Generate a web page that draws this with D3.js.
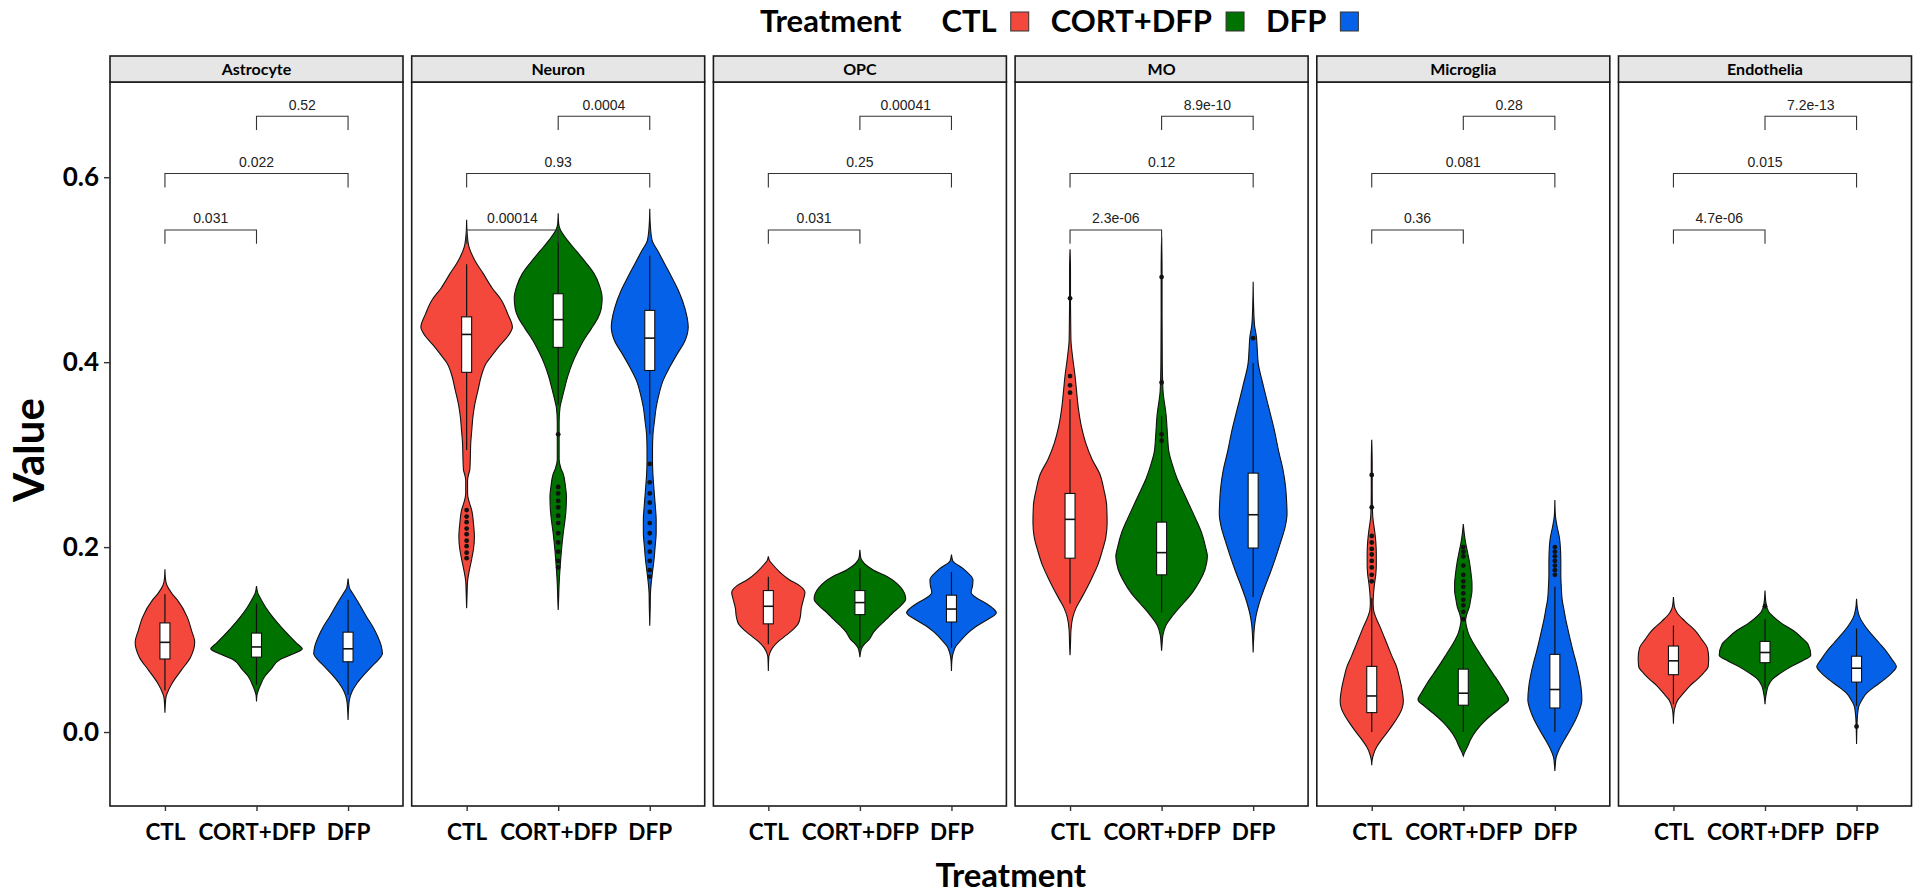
<!DOCTYPE html>
<meta charset="utf-8">
<script src="https://d3js.org/d3.v7.min.js"></script>
<style>
  body { margin: 0; background: #fff; }
  .tick text { font-family: Lato, "Open Sans", sans-serif; font-weight: bold; fill: #000; }
</style>
<body>
<div id="vis"></div>
<script>
// categories
var cellTypes = ["Astrocyte", "Neuron", "OPC", "MO", "Microglia", "Endothelia"];
var groups = ["CTL", "CORT+DFP", "DFP"];
var groupColors = ["#F5483D", "#007200", "#0562E8"];
var yTicks = [0.0, 0.2, 0.4, 0.6];

// violin outlines: [value, relative half width] per group (CTL, CORT+DFP, DFP)
var astrocyteViolins = [
  [[0.176,0],[0.166,0.01],[0.159,0.04],[0.150,0.15],[0.143,0.27],[0.124,0.49],[0.110,0.58],[0.097,0.65],[0.081,0.56],[0.067,0.36],[0.053,0.16],[0.042,0.05],[0.037,0.02],[0.021,0]],
  [[0.158,0],[0.150,0.03],[0.146,0.07],[0.135,0.2],[0.124,0.36],[0.113,0.55],[0.103,0.74],[0.095,0.9],[0.090,1.0],[0.084,0.78],[0.078,0.5],[0.068,0.32],[0.060,0.18],[0.050,0.08],[0.045,0.04],[0.040,0.01],[0.033,0]],
  [[0.166,0],[0.156,0.03],[0.150,0.1],[0.138,0.25],[0.125,0.40],[0.113,0.55],[0.103,0.65],[0.092,0.73],[0.085,0.75],[0.078,0.66],[0.071,0.52],[0.062,0.35],[0.053,0.2],[0.044,0.09],[0.035,0.03],[0.025,0.01],[0.013,0]]
];
var neuronViolins = [
  [[0.554,0],[0.54,0.01],[0.525,0.05],[0.51,0.18],[0.496,0.36],[0.480,0.56],[0.467,0.76],[0.452,0.9],[0.438,1.0],[0.428,0.9],[0.419,0.74],[0.409,0.58],[0.399,0.43],[0.385,0.32],[0.370,0.25],[0.355,0.18],[0.342,0.14],[0.325,0.11],[0.313,0.09],[0.295,0.08],[0.284,0.07],[0.278,0.04],[0.272,0.02],[0.258,0.02],[0.248,0.06],[0.240,0.11],[0.225,0.15],[0.211,0.17],[0.198,0.15],[0.187,0.11],[0.175,0.06],[0.163,0.02],[0.150,0.01],[0.134,0]],
  [[0.561,0],[0.550,0.01],[0.544,0.04],[0.532,0.2],[0.520,0.40],[0.508,0.6],[0.496,0.78],[0.483,0.9],[0.469,0.96],[0.458,0.94],[0.448,0.87],[0.436,0.72],[0.424,0.56],[0.412,0.43],[0.399,0.31],[0.385,0.21],[0.370,0.13],[0.360,0.08],[0.351,0.04],[0.335,0.02],[0.315,0.02],[0.295,0.02],[0.285,0.06],[0.279,0.11],[0.265,0.16],[0.255,0.18],[0.240,0.17],[0.230,0.15],[0.215,0.11],[0.206,0.09],[0.190,0.06],[0.177,0.04],[0.160,0.02],[0.145,0.01],[0.132,0]],
  [[0.566,0],[0.550,0.01],[0.532,0.05],[0.520,0.18],[0.506,0.33],[0.490,0.5],[0.477,0.63],[0.458,0.77],[0.438,0.84],[0.422,0.76],[0.409,0.6],[0.395,0.44],[0.380,0.29],[0.365,0.2],[0.351,0.14],[0.335,0.1],[0.322,0.07],[0.305,0.06],[0.293,0.06],[0.278,0.07],[0.264,0.09],[0.245,0.12],[0.230,0.14],[0.215,0.14],[0.202,0.12],[0.185,0.09],[0.173,0.06],[0.160,0.03],[0.150,0.015],[0.135,0.01],[0.115,0]]
];
var opcViolins = [
  [[0.190,0],[0.185,0.03],[0.182,0.08],[0.173,0.25],[0.165,0.45],[0.158,0.69],[0.151,0.80],[0.142,0.76],[0.134,0.72],[0.125,0.70],[0.117,0.65],[0.110,0.52],[0.105,0.4],[0.098,0.22],[0.091,0.09],[0.085,0.03],[0.081,0.01],[0.066,0]],
  [[0.197,0],[0.188,0.02],[0.182,0.1],[0.175,0.3],[0.168,0.6],[0.156,0.9],[0.144,1.0],[0.136,0.88],[0.129,0.72],[0.122,0.58],[0.115,0.43],[0.108,0.3],[0.100,0.2],[0.095,0.1],[0.091,0.04],[0.085,0.01],[0.081,0]],
  [[0.192,0],[0.185,0.03],[0.177,0.25],[0.171,0.38],[0.165,0.47],[0.158,0.46],[0.151,0.43],[0.145,0.55],[0.139,0.76],[0.134,0.9],[0.129,0.98],[0.122,0.8],[0.115,0.56],[0.108,0.38],[0.100,0.22],[0.093,0.1],[0.086,0.04],[0.078,0.01],[0.066,0]]
];
var moViolins = [
  [[0.522,0],[0.50,0.01],[0.47,0.01],[0.44,0.015],[0.424,0.02],[0.404,0.06],[0.385,0.11],[0.370,0.14],[0.351,0.18],[0.330,0.25],[0.313,0.34],[0.295,0.48],[0.279,0.65],[0.262,0.74],[0.245,0.80],[0.226,0.81],[0.210,0.78],[0.197,0.71],[0.180,0.6],[0.168,0.49],[0.155,0.36],[0.144,0.24],[0.134,0.13],[0.124,0.06],[0.110,0.02],[0.095,0.01],[0.083,0]],
  [[0.535,0],[0.50,0.01],[0.45,0.01],[0.40,0.015],[0.370,0.03],[0.342,0.1],[0.320,0.13],[0.303,0.16],[0.290,0.23],[0.274,0.34],[0.260,0.47],[0.245,0.61],[0.230,0.75],[0.216,0.87],[0.200,0.96],[0.190,1.0],[0.176,0.95],[0.163,0.83],[0.150,0.66],[0.139,0.47],[0.127,0.26],[0.115,0.09],[0.105,0.03],[0.095,0.01],[0.088,0]],
  [[0.487,0],[0.46,0.01],[0.440,0.03],[0.428,0.07],[0.413,0.09],[0.399,0.11],[0.375,0.22],[0.351,0.34],[0.327,0.46],[0.303,0.56],[0.284,0.65],[0.264,0.71],[0.250,0.73],[0.236,0.74],[0.222,0.7],[0.207,0.61],[0.190,0.5],[0.173,0.38],[0.155,0.24],[0.139,0.13],[0.125,0.06],[0.115,0.03],[0.100,0.01],[0.086,0]]
];
var microgliaViolins = [
  [[0.316,0],[0.29,0.01],[0.26,0.01],[0.235,0.02],[0.215,0.07],[0.205,0.09],[0.193,0.1],[0.180,0.1],[0.171,0.09],[0.160,0.06],[0.150,0.04],[0.140,0.03],[0.132,0.04],[0.124,0.09],[0.114,0.18],[0.103,0.27],[0.092,0.36],[0.081,0.45],[0.071,0.54],[0.060,0.6],[0.049,0.65],[0.033,0.69],[0.025,0.66],[0.017,0.58],[0.008,0.46],[-0.001,0.33],[-0.008,0.22],[-0.016,0.11],[-0.024,0.04],[-0.030,0.01],[-0.036,0]],
  [[0.225,0],[0.215,0.02],[0.205,0.05],[0.195,0.09],[0.185,0.13],[0.171,0.17],[0.160,0.19],[0.153,0.19],[0.143,0.16],[0.135,0.13],[0.128,0.08],[0.121,0.05],[0.114,0.07],[0.107,0.11],[0.096,0.22],[0.085,0.36],[0.074,0.5],[0.063,0.65],[0.052,0.8],[0.042,0.92],[0.035,0.99],[0.028,0.85],[0.020,0.65],[0.011,0.45],[0.002,0.29],[-0.008,0.16],[-0.016,0.09],[-0.022,0.03],[-0.026,0]],
  [[0.251,0],[0.235,0.01],[0.222,0.05],[0.210,0.1],[0.200,0.12],[0.185,0.13],[0.171,0.13],[0.157,0.14],[0.143,0.16],[0.132,0.2],[0.121,0.24],[0.110,0.29],[0.099,0.34],[0.087,0.4],[0.074,0.47],[0.061,0.53],[0.049,0.57],[0.035,0.59],[0.024,0.54],[0.013,0.45],[0.002,0.33],[-0.009,0.2],[-0.018,0.1],[-0.027,0.03],[-0.035,0.01],[-0.042,0]]
];
var endotheliaViolins = [
  [[0.146,0],[0.136,0.02],[0.129,0.08],[0.120,0.25],[0.110,0.47],[0.100,0.62],[0.091,0.74],[0.080,0.77],[0.071,0.76],[0.064,0.66],[0.057,0.52],[0.050,0.36],[0.042,0.22],[0.035,0.1],[0.028,0.04],[0.020,0.01],[0.009,0]],
  [[0.153,0],[0.140,0.02],[0.130,0.08],[0.124,0.2],[0.117,0.38],[0.110,0.61],[0.102,0.8],[0.095,0.94],[0.083,1.0],[0.077,0.82],[0.071,0.58],[0.064,0.35],[0.057,0.16],[0.050,0.07],[0.042,0.03],[0.036,0.01],[0.030,0]],
  [[0.144,0],[0.133,0.02],[0.124,0.07],[0.115,0.18],[0.105,0.34],[0.096,0.5],[0.086,0.67],[0.078,0.78],[0.071,0.87],[0.064,0.77],[0.057,0.61],[0.050,0.42],[0.042,0.22],[0.035,0.12],[0.028,0.05],[0.018,0.02],[0.008,0.01],[-0.013,0]]
];

// box stats: [lower whisker, q1, median, q3, upper whisker]
var astrocyteBoxes = [[0.045,0.079,0.097,0.118,0.149],[0.051,0.081,0.092,0.107,0.139],[0.040,0.076,0.090,0.108,0.143]];
var neuronBoxes = [[0.305,0.389,0.430,0.449,0.506],[0.354,0.416,0.446,0.474,0.530],[0.322,0.391,0.426,0.456,0.515]];
var opcBoxes = [[0.095,0.117,0.136,0.153,0.168],[0.091,0.127,0.140,0.153,0.177],[0.091,0.119,0.133,0.148,0.173]];
var moBoxes = [[0.139,0.188,0.230,0.258,0.360],[0.129,0.170,0.194,0.227,0.342],[0.146,0.199,0.235,0.280,0.399]];
var microgliaBoxes = [[0.000,0.021,0.039,0.071,0.145],[0.000,0.029,0.042,0.068,0.110],[0.000,0.026,0.046,0.084,0.157]];
var endotheliaBoxes = [[0.030,0.062,0.077,0.093,0.115],[0.047,0.075,0.086,0.098,0.122],[0.028,0.054,0.069,0.082,0.112]];

// outlier points
var astrocyteOutliers = [[], [], []];
var neuronOutliers = [
  [0.240,0.233,0.227,0.220,0.214,0.207,0.201,0.194,0.188],
  [0.322,0.265,0.258,0.250,0.243,0.234,0.226,0.215,0.205,0.195,0.185,0.178],
  [0.290,0.270,0.258,0.248,0.238,0.226,0.215,0.205,0.195,0.185,0.175,0.168]
];
var opcOutliers = [[], [], []];
var moOutliers = [[0.469,0.385,0.375,0.367], [0.492,0.378,0.322,0.315], [0.426]];
var microgliaOutliers = [
  [0.278,0.243,0.212,0.205,0.198,0.192,0.185,0.178,0.170,0.163],
  [0.200,0.195,0.190,0.180,0.170,0.163,0.157,0.150,0.143,0.137,0.130,0.122],
  [0.200,0.195,0.190,0.185,0.180,0.175,0.170]
];
var endotheliaOutliers = [[], [0.136], [0.006]];

// p-values: CTL vs CORT+DFP, CTL vs DFP, CORT+DFP vs DFP
var comparisons = [[0, 1], [0, 2], [1, 2]];
var bracketLevels = [0.543, 0.604, 0.666];
var astrocytePvals = ["0.031", "0.022", "0.52"];
var neuronPvals = ["0.00014", "0.93", "0.0004"];
var opcPvals = ["0.031", "0.25", "0.00041"];
var moPvals = ["2.3e-06", "0.12", "8.9e-10"];
var microgliaPvals = ["0.36", "0.081", "0.28"];
var endotheliaPvals = ["4.7e-06", "0.015", "7.2e-13"];

var panels = [
  {name: "Astrocyte", violins: astrocyteViolins, boxes: astrocyteBoxes, outliers: astrocyteOutliers, pvals: astrocytePvals},
  {name: "Neuron", violins: neuronViolins, boxes: neuronBoxes, outliers: neuronOutliers, pvals: neuronPvals},
  {name: "OPC", violins: opcViolins, boxes: opcBoxes, outliers: opcOutliers, pvals: opcPvals},
  {name: "MO", violins: moViolins, boxes: moBoxes, outliers: moOutliers, pvals: moPvals},
  {name: "Microglia", violins: microgliaViolins, boxes: microgliaBoxes, outliers: microgliaOutliers, pvals: microgliaPvals},
  {name: "Endothelia", violins: endotheliaViolins, boxes: endotheliaBoxes, outliers: endotheliaOutliers, pvals: endotheliaPvals}
];

// layout
var width = 1920, height = 896;
var panelX0 = 110, panelW = 293, panelGap = 8.7;
var stripTop = 56, plotTop = 82, plotBottom = 806;
var boldFont = "Lato, 'Open Sans', sans-serif";

var svg = d3.select("#vis")
  .append("svg")
    .attr("width", width)
    .attr("height", height)
    .style("display", "block");

var y = d3.scaleLinear()
  .domain([-0.08, 0.703])
  .range([plotBottom, plotTop]);

var color = d3.scaleOrdinal()
  .domain(groups)
  .range(groupColors);

panels.forEach(function(p, i) {
  var left = panelX0 + i * (panelW + panelGap);
  var x = d3.scalePoint()
    .domain(groups)
    .range([left, left + panelW])
    .padding(0.6);
  var w = d3.scaleLinear()
    .domain([0, 1])
    .range([0, x.step() / 2]);

  var g = svg.append("g").attr("class", "panel");

  // panel box
  g.append("rect")
    .attr("x", left).attr("y", plotTop)
    .attr("width", panelW).attr("height", plotBottom - plotTop)
    .attr("fill", "#fff").attr("stroke", "#1a1a1a").attr("stroke-width", 1.6);

  // strip
  g.append("rect")
    .attr("x", left).attr("y", stripTop)
    .attr("width", panelW).attr("height", plotTop - stripTop)
    .attr("fill", "#e6e6e6").attr("stroke", "#1a1a1a").attr("stroke-width", 1.6);
  g.append("text")
    .attr("x", left + panelW / 2).attr("y", stripTop + 18.5)
    .attr("text-anchor", "middle")
    .style("font-family", boldFont).style("font-weight", "bold").style("font-size", "16px")
    .text(p.name);

  // violins
  p.violins.forEach(function(prof, k) {
    var cx = x(groups[k]);
    var pts = prof.slice().sort(function(a, b) { return b[0] - a[0]; });
    var area = d3.area()
      .y(function(d) { return y(d[0]); })
      .x0(function(d) { return cx - w(d[1]); })
      .x1(function(d) { return cx + w(d[1]); })
      .curve(d3.curveMonotoneY);
    g.append("path")
      .attr("d", area(pts))
      .attr("fill", color(groups[k]))
      .attr("stroke", "#111")
      .attr("stroke-width", 1.1);
  });

  // boxplots
  p.boxes.forEach(function(b, k) {
    var cx = x(groups[k]);
    var bw = 10;
    g.append("line")
      .attr("x1", cx).attr("x2", cx)
      .attr("y1", y(b[0])).attr("y2", y(b[4]))
      .attr("stroke", "#111").attr("stroke-width", 1.2);
    g.append("rect")
      .attr("x", cx - bw / 2).attr("width", bw)
      .attr("y", y(b[3])).attr("height", y(b[1]) - y(b[3]))
      .attr("fill", "#fff").attr("stroke", "#111").attr("stroke-width", 1.1);
    g.append("line")
      .attr("x1", cx - bw / 2).attr("x2", cx + bw / 2)
      .attr("y1", y(b[2])).attr("y2", y(b[2]))
      .attr("stroke", "#111").attr("stroke-width", 1.6);
  });

  // outliers
  p.outliers.forEach(function(list, k) {
    var cx = x(groups[k]);
    g.selectAll(null)
      .data(list)
      .enter()
      .append("circle")
        .attr("cx", cx)
        .attr("cy", function(d) { return y(d); })
        .attr("r", 2.4)
        .attr("fill", "#111");
  });

  // comparison brackets
  comparisons.forEach(function(c, k) {
    var x1 = x(groups[c[0]]), x2 = x(groups[c[1]]);
    var lv = bracketLevels[k], tip = 0.015;
    g.append("path")
      .attr("d", "M" + x1 + "," + y(lv - tip) + "V" + y(lv) + "H" + x2 + "V" + y(lv - tip))
      .attr("fill", "none").attr("stroke", "#333").attr("stroke-width", 1.1);
    g.append("text")
      .attr("x", (x1 + x2) / 2).attr("y", y(lv) - 6.5)
      .attr("text-anchor", "middle")
      .style("font-family", "'Liberation Sans', Arial, sans-serif").style("font-size", "14px")
      .attr("fill", "#222")
      .text(p.pvals[k]);
  });

  // x axis
  var xAxis = g.append("g")
    .attr("transform", "translate(0," + plotBottom + ")")
    .call(d3.axisBottom(x).tickSize(5).tickPadding(13));
  xAxis.select(".domain").remove();
  xAxis.selectAll(".tick line").attr("stroke", "#333").attr("stroke-width", 1.4);
  xAxis.selectAll(".tick text").style("font-size", "22.5px");

  // y axis on first panel
  if (i === 0) {
    var yAxis = g.append("g")
      .attr("transform", "translate(" + left + ",0)")
      .call(d3.axisLeft(y).tickValues(yTicks).tickFormat(d3.format(".1f")).tickSize(6).tickPadding(5));
    yAxis.select(".domain").remove();
    yAxis.selectAll(".tick line").attr("stroke", "#333").attr("stroke-width", 1.4);
    yAxis.selectAll(".tick text").style("font-size", "26px");
  }
});

// axis titles
svg.append("text")
  .attr("x", panelX0 + (6 * panelW + 5 * panelGap) / 2)
  .attr("y", 887)
  .attr("text-anchor", "middle")
  .style("font-family", boldFont).style("font-weight", "bold").style("font-size", "33px")
  .text("Treatment");
svg.append("text")
  .attr("transform", "translate(44,450) rotate(-90)")
  .attr("text-anchor", "middle")
  .style("font-family", boldFont).style("font-weight", "bold").style("font-size", "42px")
  .text("Value");

// legend on top
var legend = svg.append("g").attr("class", "legend");
var lx = 760, baseY = 32;
var title = legend.append("text")
  .attr("x", lx).attr("y", baseY)
  .style("font-family", boldFont).style("font-weight", "bold").style("font-size", "31px")
  .text("Treatment");
lx += title.node().getComputedTextLength() + 40;
groups.forEach(function(gname, k) {
  var t = legend.append("text")
    .attr("x", lx).attr("y", baseY)
    .style("font-family", boldFont).style("font-weight", "bold").style("font-size", "31px")
    .text(gname);
  lx += t.node().getComputedTextLength() + 14;
  legend.append("rect")
    .attr("x", lx).attr("y", 12)
    .attr("width", 18).attr("height", 19)
    .attr("fill", color(gname))
    .attr("stroke", "#333").attr("stroke-width", 1);
  lx += 18 + 22;
});
</script>
</body>
